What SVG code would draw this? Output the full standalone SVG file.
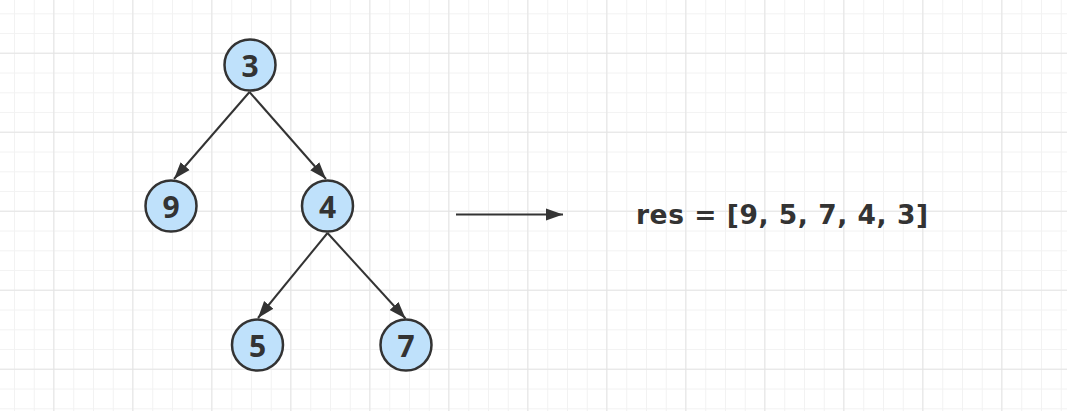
<svg xmlns="http://www.w3.org/2000/svg" width="1067" height="411" viewBox="0 0 1067 411">
<defs>
<style>
.minor{stroke:#f2f2f2;stroke-width:1;fill:none}
.major{stroke:#e4e4e4;stroke-width:1;fill:none}
.node circle{fill:#bfe1fb;stroke:#333;stroke-width:2.5}
.node text{font-family:"Open Sans","Liberation Sans",sans-serif;font-weight:bold;font-size:30px;fill:#333;text-anchor:middle}
.edge{stroke:#333;stroke-width:2;fill:none;marker-end:url(#ah)}
.label{font-family:"DejaVu Sans","Open Sans",sans-serif;font-weight:bold;font-size:26.5px;fill:#333}
</style>
<marker id="ah" markerUnits="userSpaceOnUse" markerWidth="18" markerHeight="14" viewBox="0 0 18 14" refX="17" refY="7" orient="auto">
<path d="M0,1 L17,7 L0,13 Z" fill="#333"/>
</marker>
<pattern id="gminor" patternUnits="userSpaceOnUse" x="14" y="13.3" width="19.75" height="19.75">
<path d="M0.5,0 V19.75 M0,0.5 H19.75" class="minor"/>
</pattern>
<pattern id="gmajor" patternUnits="userSpaceOnUse" x="53.3" y="52.7" width="79" height="79">
<path d="M0.5,0 V79 M0,0.5 H79" class="major"/>
</pattern>
</defs>
<rect width="1067" height="411" fill="#fff"/>
<rect width="1067" height="411" fill="url(#gminor)"/>
<rect width="1067" height="411" fill="url(#gmajor)"/>
<g id="connectors">
<line class="edge" x1="249.5" y1="92" x2="174" y2="179"/>
<line class="edge" x1="249.5" y1="92" x2="326" y2="179"/>
<line class="edge" x1="327.5" y1="233" x2="258" y2="318"/>
<line class="edge" x1="327.5" y1="233" x2="405.5" y2="318.5"/>
<line class="edge" x1="456" y1="214.5" x2="563" y2="214.5"/>
</g>
<g id="node3" class="node"><circle cx="250" cy="65" r="25.5"/><text x="250" y="76.5">3</text></g>
<g id="node9" class="node"><circle cx="171" cy="206" r="25.5"/><text x="171" y="217.5">9</text></g>
<g id="node4" class="node"><circle cx="327.5" cy="206" r="25.5"/><text x="327.5" y="217.5">4</text></g>
<g id="node5" class="node"><circle cx="257.5" cy="345" r="25.5"/><text x="257.5" y="356.5">5</text></g>
<g id="node7" class="node"><circle cx="406" cy="345" r="25.5"/><text x="406" y="356.5">7</text></g>
<g id="result"><text class="label" x="636" y="223.5" textLength="292" lengthAdjust="spacing">res = [9, 5, 7, 4, 3]</text></g>
</svg>
